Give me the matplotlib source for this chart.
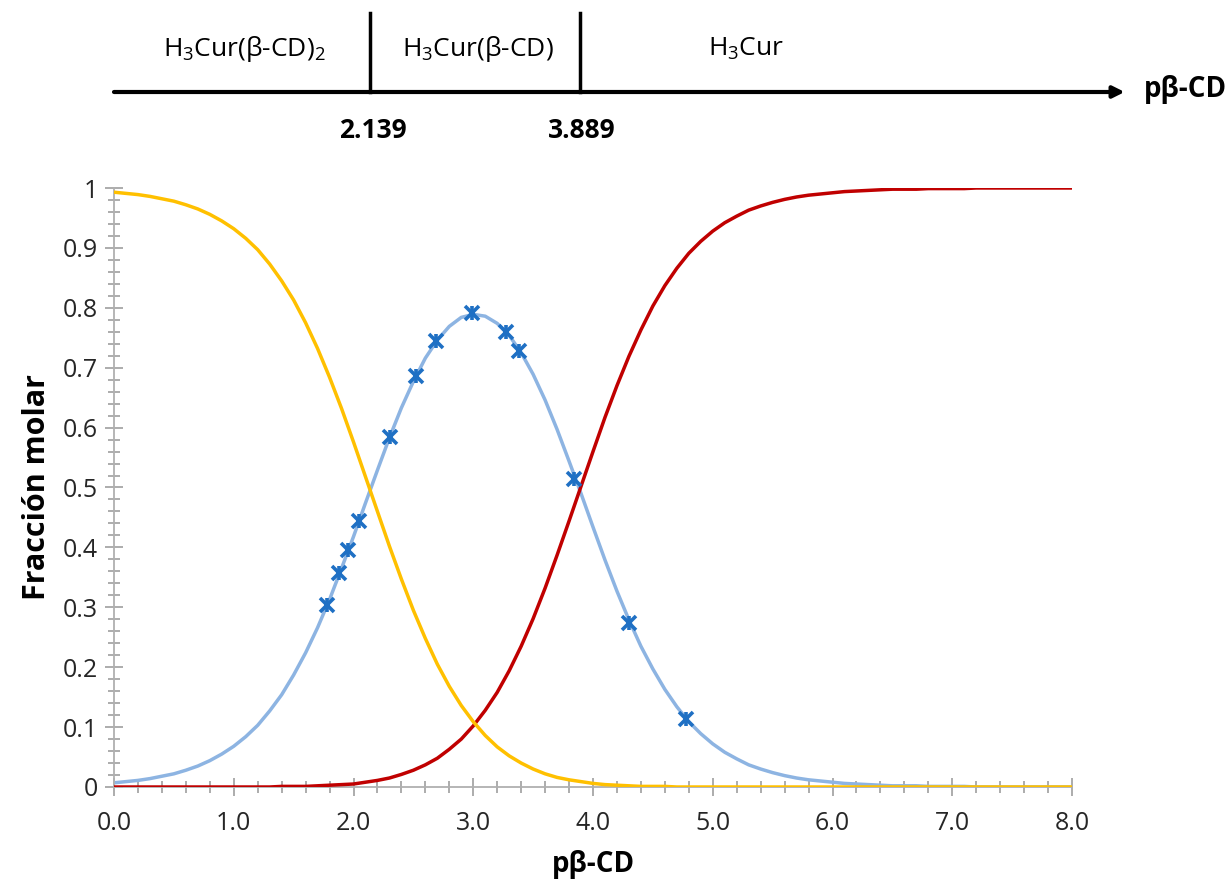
import matplotlib
matplotlib.use("Agg")
import matplotlib.pyplot as plt
from matplotlib.ticker import MultipleLocator, FuncFormatter

plt.rcParams['font.family'] = ['Open Sans', 'DejaVu Sans']
plt.rcParams['mathtext.fontset'] = 'custom'
plt.rcParams['mathtext.rm'] = 'Open Sans'
plt.rcParams['mathtext.it'] = 'Open Sans'
plt.rcParams['mathtext.bf'] = 'Open Sans:bold'

# ---- data ----
p_beta = [0.0, 0.1, 0.2, 0.3, 0.4, 0.5, 0.6, 0.7, 0.8, 0.9,
          1.0, 1.1, 1.2, 1.3, 1.4, 1.5, 1.6, 1.7, 1.8, 1.9,
          2.0, 2.1, 2.2, 2.3, 2.4, 2.5, 2.6, 2.7, 2.8, 2.9,
          3.0, 3.1, 3.2, 3.3, 3.4, 3.5, 3.6, 3.7, 3.8, 3.9,
          4.0, 4.1, 4.2, 4.3, 4.4, 4.5, 4.6, 4.7, 4.8, 4.9,
          5.0, 5.1, 5.2, 5.3, 5.4, 5.5, 5.6, 5.7, 5.8, 5.9,
          6.0, 6.1, 6.2, 6.3, 6.4, 6.5, 6.6, 6.7, 6.8, 6.9,
          7.0, 7.1, 7.2, 7.3, 7.4, 7.5, 7.6, 7.7, 7.8, 7.9, 8.0]
# H3Cur(β-CD)2
frac_complex2 = [0.993, 0.991, 0.989, 0.986, 0.982, 0.978, 0.972, 0.965, 0.956, 0.945,
                 0.932, 0.916, 0.897, 0.873, 0.845, 0.813, 0.775, 0.732, 0.684, 0.632,
                 0.576, 0.518, 0.460, 0.402, 0.347, 0.295, 0.248, 0.205, 0.168, 0.136,
                 0.109, 0.086, 0.067, 0.052, 0.040, 0.030, 0.022, 0.016, 0.012, 0.009,
                 0.006, 0.004, 0.003, 0.002, 0.001, 0.001, 0.001, 0.0, 0.0, 0.0,
                 0.0, 0.0, 0.0, 0.0, 0.0, 0.0, 0.0, 0.0, 0.0, 0.0,
                 0.0, 0.0, 0.0, 0.0, 0.0, 0.0, 0.0, 0.0, 0.0, 0.0,
                 0.0, 0.0, 0.0, 0.0, 0.0, 0.0, 0.0, 0.0, 0.0, 0.0, 0.0]
# H3Cur(β-CD)
frac_complex1 = [0.007, 0.009, 0.011, 0.014, 0.018, 0.022, 0.028, 0.035, 0.044, 0.055,
                 0.068, 0.084, 0.103, 0.127, 0.154, 0.187, 0.224, 0.266, 0.313, 0.365,
                 0.418, 0.474, 0.529, 0.583, 0.633, 0.677, 0.716, 0.746, 0.769, 0.784,
                 0.789, 0.786, 0.774, 0.754, 0.725, 0.689, 0.646, 0.597, 0.544, 0.490,
                 0.434, 0.379, 0.327, 0.279, 0.235, 0.197, 0.163, 0.134, 0.109, 0.089,
                 0.072, 0.058, 0.047, 0.037, 0.030, 0.024, 0.019, 0.015, 0.012, 0.010,
                 0.008, 0.006, 0.005, 0.004, 0.003, 0.002, 0.002, 0.002, 0.001, 0.001,
                 0.001, 0.001, 0.0, 0.0, 0.0, 0.0, 0.0, 0.0, 0.0, 0.0, 0.0]
# H3Cur
frac_free = [0.0, 0.0, 0.0, 0.0, 0.0, 0.0, 0.0, 0.0, 0.0, 0.0,
             0.0, 0.0, 0.0, 0.0, 0.001, 0.001, 0.001, 0.002, 0.003, 0.004,
             0.005, 0.008, 0.011, 0.015, 0.021, 0.028, 0.037, 0.048, 0.063, 0.080,
             0.102, 0.128, 0.158, 0.194, 0.235, 0.281, 0.332, 0.387, 0.444, 0.502,
             0.560, 0.617, 0.670, 0.719, 0.763, 0.803, 0.837, 0.866, 0.891, 0.911,
             0.928, 0.942, 0.953, 0.963, 0.970, 0.976, 0.981, 0.985, 0.988, 0.990,
             0.992, 0.994, 0.995, 0.996, 0.997, 0.998, 0.998, 0.998, 0.999, 0.999,
             0.999, 0.999, 1.0, 1.0, 1.0, 1.0, 1.0, 1.0, 1.0, 1.0, 1.0]
exp_x = [1.78, 1.88, 1.955, 2.046, 2.305, 2.522, 2.689, 2.99, 3.273, 3.382, 3.841, 4.30, 4.777]
exp_y = [0.304, 0.357, 0.396, 0.444, 0.584, 0.686, 0.745, 0.791, 0.760, 0.728, 0.514, 0.274, 0.1135]

boundaries = [2.139, 3.889]
boundary_labels = ['2.139', '3.889']
region_labels = [r'H$_3$Cur(β-CD)$_2$', r'H$_3$Cur(β-CD)', r'H$_3$Cur']
region_centers = [1.09, 3.04, 5.28]

W, H = 1232, 881
fig = plt.figure(figsize=(W / 100, H / 100), dpi=100)

left = 114 / W
right = 1072 / W
ax = fig.add_axes([left, 1 - 787 / H, right - left, (787 - 188) / H])

ax.plot(p_beta, frac_complex1, color='#8DB4E2', lw=2.5, zorder=2, solid_capstyle='round')
ax.plot(p_beta, frac_free, color='#C00000', lw=2.5, zorder=3, solid_capstyle='round')
ax.plot(p_beta, frac_complex2, color='#FFC000', lw=2.5, zorder=4, solid_capstyle='round')
ax.plot(exp_x, exp_y, ls='none', marker='x', ms=10.5, mew=2.6, color='#1F70C4', zorder=5)
ax.plot(exp_x, exp_y, ls='none', marker='|', ms=10.5, mew=2.6, color='#1F70C4', zorder=5)

ax.set_xlim(0, 8)
ax.set_ylim(0, 1)
ax.xaxis.set_major_locator(MultipleLocator(1))
ax.xaxis.set_minor_locator(MultipleLocator(0.2))
ax.yaxis.set_major_locator(MultipleLocator(0.1))
ax.yaxis.set_minor_locator(MultipleLocator(0.02))
ax.xaxis.set_major_formatter(FuncFormatter(lambda v, pos: f'{v:.1f}'))
ax.yaxis.set_major_formatter(FuncFormatter(
    lambda v, pos: '0' if abs(v) < 1e-9 else ('1' if abs(v - 1) < 1e-9 else f'{v:.1f}')))

for s in ['top', 'right']:
    ax.spines[s].set_visible(False)
for s in ['left', 'bottom']:
    ax.spines[s].set_color('#B0B0B0')
    ax.spines[s].set_linewidth(1.3)

ax.tick_params(which='major', direction='inout', length=13, width=1.3, color='#A6A6A6',
               labelsize=18, labelcolor='#262626', pad=5)
ax.tick_params(which='minor', direction='inout', length=9, width=1.3, color='#A6A6A6')
ax.tick_params(axis='x', which='major', pad=11)

ax.set_xlabel('pβ-CD', fontsize=20, fontweight='bold', labelpad=10)
ax.set_ylabel('Fracción molar', fontsize=22, fontweight='bold', labelpad=8)

# ---- top diagram ----
ax2 = fig.add_axes([left, 1 - 150 / H, right - left, 150 / H])
ax2.set_xlim(0, 8)
ax2.set_ylim(150, 0)
ax2.axis('off')
ax2.annotate('', xy=(8.44, 92), xytext=(0.0, 92),
             arrowprops=dict(arrowstyle='-|>', lw=3.0, color='black',
                             mutation_scale=17, shrinkA=0, shrinkB=0),
             annotation_clip=False)
for b, lab in zip(boundaries, boundary_labels):
    ax2.plot([b, b], [13, 92], color='black', lw=2.5, clip_on=False)
    ax2.text(b + 0.02, 130, lab, ha='center', va='center', fontsize=19, fontweight='bold')
for c, lab in zip(region_centers, region_labels):
    ax2.text(c, 49, lab, ha='center', va='center', fontsize=19)
ax2.text(8.60, 90, 'pβ-CD', ha='left', va='center', fontsize=20, fontweight='bold',
         clip_on=False)

fig.savefig('out.png', dpi=100)
